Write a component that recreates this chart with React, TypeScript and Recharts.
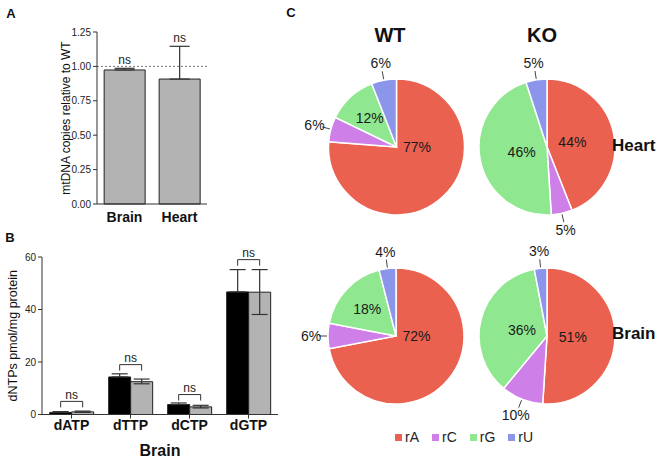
import React from 'react';
import { BarChart, Bar, XAxis, YAxis, ErrorBar, ReferenceLine, LabelList, PieChart, Pie, Cell } from 'recharts';

const FONT = '"Liberation Sans", Arial, Helvetica, sans-serif';

// A: mtDNA copy number, KO relative to WT
const tissues = ['Brain', 'Heart'];
const mtdnaKo = [0.974, 0.908];
const mtdnaSem = [0.012, 0.238];
const mtdnaTicks = [0, 0.25, 0.5, 0.75, 1, 1.25];

// B: dNTP pools in brain
const dntps = ['dATP', 'dTTP', 'dCTP', 'dGTP'];
const dntpWt = [0.8, 14.3, 3.8, 46.7];
const dntpWtSem = [0.3, 1.2, 0.6, 8.5];
const dntpKo = [1.0, 12.5, 2.9, 46.6];
const dntpKoSemUp = [0.3, 1.0, 0.6, 8.6];
const dntpKoSemDown = [0.2, 0.8, 0.4, 8.5];
const dntpBracket = [5, 19, 7.6, 59];
const dntpTicks = [0, 20, 40, 60];

// C: rNMP composition
const ribos = ['rA', 'rC', 'rG', 'rU'];
const riboColors = ['#EA6150', '#CE7FE8', '#8FE88F', '#8B96EB'];
const wtHeart = [77, 6, 12, 6];
const koHeart = [44, 5, 46, 5];
const wtBrain = [72, 6, 18, 4];
const koBrain = [51, 10, 36, 3];

const mtdnaData = tissues.map((name, i) => ({ name, value: mtdnaKo[i], err: [0, mtdnaSem[i]] }));
const dntpData = dntps.map((name, i) => ({
  name,
  wt: dntpWt[i],
  wtErr: [0, dntpWtSem[i]],
  ko: dntpKo[i],
  koErr: [dntpKoSemDown[i], dntpKoSemUp[i]],
}));
const toPie = (vals: number[]) => ribos.map((name, i) => ({ name, value: vals[i] }));

// y pixel of a data value, using the bar's own geometry
const valueY = (vb: any, barValue: number, v: number) => vb.y + vb.height - (v * vb.height) / barValue;

const mtdnaNs = (p: any) => {
  const vb = p.viewBox || p;
  const i = p.index;
  const yTop = valueY(vb, mtdnaKo[i], mtdnaKo[i] + mtdnaSem[i]);
  return (
    <text x={vb.x + vb.width / 2} y={yTop - 4} textAnchor="middle" fontSize={12} fill="#222" fontFamily={FONT}>
      ns
    </text>
  );
};

const dntpNs = (p: any) => {
  const vb = p.viewBox || p;
  const i = p.index;
  const yb = valueY(vb, dntpWt[i], dntpBracket[i]);
  const x1 = vb.x + vb.width / 2;
  const x2 = vb.x + vb.width * 1.5;
  return (
    <g>
      <path d={`M${x1},${yb + 6}V${yb}H${x2}V${yb + 6}`} stroke="#333" strokeWidth={1} fill="none" />
      <text x={(x1 + x2) / 2} y={yb - 2.5} textAnchor="middle" fontSize={12} fill="#222" fontFamily={FONT}>
        ns
      </text>
    </g>
  );
};

const RAD = Math.PI / 180;
const pieLabel = (p: any) => {
  const { cx, cy, midAngle, outerRadius, value, percent } = p;
  const cos = Math.cos(-midAngle * RAD);
  const sin = Math.sin(-midAngle * RAD);
  if (value >= 11) {
    let lx: number, ly: number;
    if (percent > 0.6) {
      lx = cx + outerRadius * 0.3;
      ly = cy;
    } else {
      const f = value < 25 ? 0.58 : 0.38;
      lx = cx + outerRadius * f * cos;
      ly = cy + outerRadius * f * sin;
    }
    return (
      <text x={lx} y={ly} textAnchor="middle" dominantBaseline="central" fontSize={14} fill="#1a1a1a" fontFamily={FONT}>
        {value}%
      </text>
    );
  }
  const r0 = outerRadius + 1;
  const r1 = outerRadius + 9;
  const rt = outerRadius + 17;
  return (
    <g>
      <line x1={cx + r0 * cos} y1={cy + r0 * sin} x2={cx + r1 * cos} y2={cy + r1 * sin} stroke="#444" strokeWidth={1} />
      <text x={cx + rt * cos} y={cy + rt * sin} textAnchor="middle" dominantBaseline="central" fontSize={14} fill="#1a1a1a" fontFamily={FONT}>
        {value}%
      </text>
    </g>
  );
};

const pies = [
  { vals: wtHeart, cx: 101.5, cy: 142 },
  { vals: koHeart, cx: 252, cy: 142 },
  { vals: wtBrain, cx: 101, cy: 331 },
  { vals: koBrain, cx: 252, cy: 331 },
];

const abs = (left: number, top: number, extra: React.CSSProperties = {}): React.CSSProperties => ({
  position: 'absolute',
  left,
  top,
  ...extra,
});

const centered = (x: number, y: number, size: number): React.CSSProperties => ({
  position: 'absolute',
  left: x,
  top: y,
  transform: 'translate(-50%, -50%)',
  fontSize: size,
  fontWeight: 'bold',
  whiteSpace: 'nowrap',
  lineHeight: 1,
});

export default function App() {
  const tickSmall = { fontSize: 10, fill: '#222', fontFamily: FONT };
  return (
    <div style={{ position: 'absolute', left: 0, top: 0, width: 661, height: 465, background: '#fff', fontFamily: FONT, color: '#111', overflow: 'hidden' }}>
      <div style={centered(11, 13, 13)}>A</div>
      <div style={centered(10, 237, 13)}>B</div>
      <div style={centered(291, 12, 13)}>C</div>

      <div style={abs(0, 0)}>
        <BarChart width={215} height={232} data={mtdnaData} margin={{ top: 32, right: 8, left: 0, bottom: 0 }} barCategoryGap="13%">
          <YAxis
            width={97}
            domain={[0, 1.25]}
            ticks={mtdnaTicks}
            tickFormatter={(v: number) => v.toFixed(2)}
            tick={tickSmall}
            tickSize={4}
            stroke="#333"
            label={{ value: 'mtDNA copies relative to WT', angle: -90, position: 'insideLeft', offset: 66, style: { textAnchor: 'middle', fontSize: 12, fill: '#111', fontFamily: FONT } }}
          />
          <XAxis dataKey="name" height={28} tickLine={false} stroke="#333" tick={{ fontSize: 14, fontWeight: 'bold', fill: '#111', fontFamily: FONT }} />
          <ReferenceLine y={1} stroke="#555" strokeDasharray="2 2" strokeWidth={0.8} />
          <Bar dataKey="value" fill="#B3B3B3" stroke="#222" strokeWidth={1} isAnimationActive={false}>
            <ErrorBar dataKey="err" width={10} stroke="#333" strokeWidth={1.2} />
            <LabelList dataKey="value" content={mtdnaNs} />
          </Bar>
        </BarChart>
      </div>

      <div style={abs(0, 232)}>
        <BarChart width={290} height={233} data={dntpData} margin={{ top: 25, right: 12, left: 0, bottom: 0 }} barCategoryGap="13%" barGap={0}>
          <YAxis
            width={42}
            domain={[0, 60]}
            ticks={dntpTicks}
            tick={tickSmall}
            tickSize={4}
            stroke="#333"
            label={{ value: 'dNTPs pmol/mg protein', angle: -90, position: 'insideLeft', offset: 13, style: { textAnchor: 'middle', fontSize: 12.5, fill: '#111', fontFamily: FONT } }}
          />
          <XAxis
            dataKey="name"
            height={50.5}
            tickSize={4}
            stroke="#333"
            tick={{ fontSize: 14, fontWeight: 'bold', fill: '#111', fontFamily: FONT }}
            label={{ value: 'Brain', position: 'insideBottom', offset: 9, style: { fontSize: 16, fontWeight: 'bold', fill: '#111', fontFamily: FONT } }}
          />
          <Bar dataKey="wt" fill="#000" stroke="#222" strokeWidth={1} isAnimationActive={false}>
            <ErrorBar dataKey="wtErr" width={8} stroke="#333" strokeWidth={1.2} />
            <LabelList dataKey="wt" content={dntpNs} />
          </Bar>
          <Bar dataKey="ko" fill="#B3B3B3" stroke="#222" strokeWidth={1} isAnimationActive={false}>
            <ErrorBar dataKey="koErr" width={8} stroke="#333" strokeWidth={1.2} />
          </Bar>
        </BarChart>
      </div>

      <div style={abs(290, 0)}>
        <PieChart width={371} height={465}>
          {pies.map((pc, k) => (
            <Pie
              key={k}
              data={toPie(pc.vals)}
              dataKey="value"
              nameKey="name"
              cx={pc.cx}
              cy={pc.cy}
              outerRadius={68}
              startAngle={90}
              endAngle={-270}
              stroke="#fff"
              strokeWidth={1.5}
              label={pieLabel}
              labelLine={false}
              isAnimationActive={false}
            >
              {ribos.map((r, i) => (
                <Cell key={r} fill={riboColors[i]} />
              ))}
            </Pie>
          ))}
        </PieChart>
      </div>

      <div style={centered(390, 35, 20)}>WT</div>
      <div style={centered(542, 35, 20)}>KO</div>
      <div style={{ ...centered(612, 145, 17), transform: 'translate(0, -50%)' }}>Heart</div>
      <div style={{ ...centered(612, 333, 17), transform: 'translate(0, -50%)' }}>Brain</div>

      <div style={abs(395, 429, { display: 'flex', gap: 13, alignItems: 'center', fontSize: 14, color: '#222' })}>
        {ribos.map((r, i) => (
          <div key={r} style={{ display: 'flex', alignItems: 'center', gap: 3 }}>
            <span style={{ width: 7, height: 7, background: riboColors[i], display: 'inline-block' }} />
            <span>{r}</span>
          </div>
        ))}
      </div>
    </div>
  );
}
